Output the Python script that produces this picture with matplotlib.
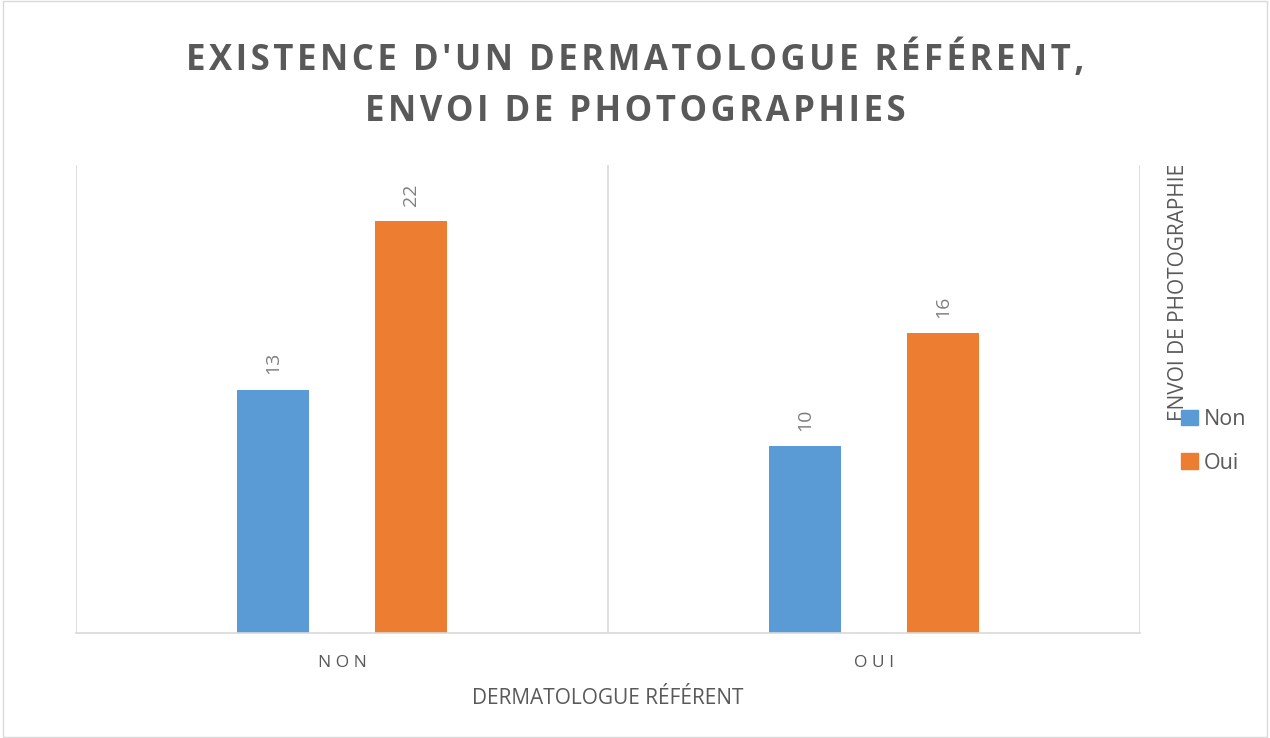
import matplotlib.pyplot as plt
import matplotlib.patches as mpatches
import numpy as np

# données
categories = ["NON", "OUI"]
series_names = ["Non", "Oui"]
values_non = [13, 10]
values_oui = [22, 16]
colors = ["#5B9BD5", "#ED7D31"]

plt.rcParams['font.family'] = ['Open Sans', 'DejaVu Sans']
grey = "#595959"


def spaced(s):
    # espacement des lettres (imitation du style Excel)
    return "\u200a".join(s)


fig = plt.figure(figsize=(12.7, 7.38), dpi=100)
ax = fig.add_axes([0.0598, 0.1423, 0.8378, 0.6341])

x = np.arange(len(categories))
width = 0.135
offset = 0.13
for vals, name, col, dx in [(values_non, series_names[0], colors[0], -offset),
                             (values_oui, series_names[1], colors[1], offset)]:
    bars = ax.bar(x + dx, vals, width, color=col, label=name)
    for b, v in zip(bars, vals):
        ax.annotate(str(v), (b.get_x() + b.get_width() / 2, b.get_height()),
                    xytext=(0, 11), textcoords="offset points",
                    rotation=90, ha="center", va="bottom",
                    fontsize=14, color="#7f7f7f")

ax.set_xlim(-0.5, len(categories) - 0.5)
ax.set_ylim(0, 25)
ax.set_yticks([])
ax.set_xticks(x)
ax.set_xticklabels([" ".join(c) for c in categories], fontsize=12.5, color=grey)
ax.tick_params(axis="x", length=0, pad=16)
for s in ["top", "right", "left"]:
    ax.spines[s].set_visible(False)
ax.spines["bottom"].set_color("#d9d9d9")
ax.spines["bottom"].set_linewidth(1.2)
# séparateurs verticaux entre catégories
for xv in np.arange(-0.5, len(categories), 1.0):
    ax.axvline(xv, color="#d9d9d9", linewidth=1.2, zorder=0)

ax.set_xlabel("DERMATOLOGUE RÉFÉRENT", fontsize=15, color=grey, labelpad=12)

title = spaced("EXISTENCE D'UN DERMATOLOGUE RÉFÉRENT,") + "\n" + spaced("ENVOI DE PHOTOGRAPHIES")
fig.text(0.5, 0.884, title, ha="center", va="center", fontsize=25, fontweight="bold",
         color=grey, linespacing=1.55)

# légende à droite
handles = [mpatches.Patch(color=c, label=n) for c, n in zip(colors, series_names)]
fig.legend(handles=handles, loc="upper left", bbox_to_anchor=(0.915, 0.472),
           frameon=False, fontsize=15.5, labelcolor=grey, handlelength=0.75,
           handleheight=0.75, handletextpad=0.3, labelspacing=1.05)
fig.text(0.928, 0.43, "ENVOI DE PHOTOGRAPHIE", rotation=90, ha="center", va="bottom",
         fontsize=15, color=grey)

fig.patches.append(mpatches.Rectangle((0.002, 0.002), 0.996, 0.996, transform=fig.transFigure,
                                      fill=False, edgecolor="#d9d9d9", linewidth=1))

fig.savefig("out.png", dpi=100)
